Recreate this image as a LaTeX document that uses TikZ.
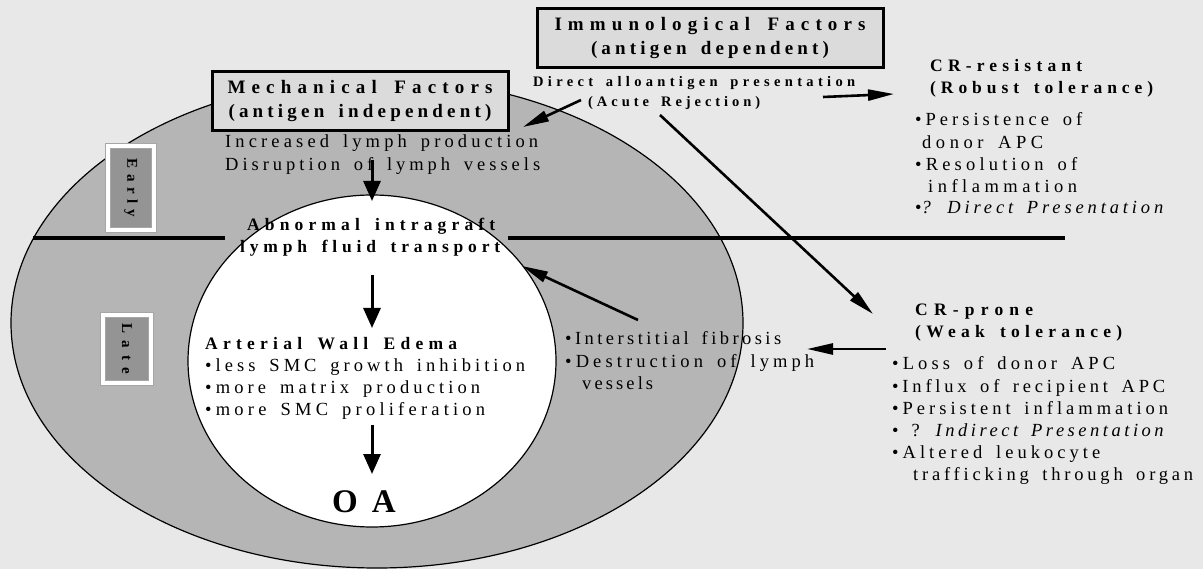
\documentclass[tikz,border=0pt]{standalone}
\usepackage{fontspec}
\setmainfont[WordSpace=1.6]{Liberation Serif}
\usetikzlibrary{shapes.geometric,arrows.meta}
\definecolor{bggray}{gray}{0.91}
\definecolor{ringgray}{gray}{0.71}
\definecolor{boxgray}{gray}{0.86}
\definecolor{tagdark}{gray}{0.58}
% spread a line of text to a given visible width with letter spacing
\newcommand\fitw[2]{%
  \setbox0\hbox{#2}\edef\fitA{\the\wd0}%
  \setbox0\hbox{\addfontfeature{LetterSpace=10}#2}\edef\fitB{\the\wd0}%
  \pgfmathsetmacro\fitls{10*(#1-\fitA)/(\fitB-\fitA)}%
  {\addfontfeature{LetterSpace=\fitls}#2}}
\begin{document}
\begin{tikzpicture}[x=1pt,y=-1pt,
  body/.style={font={\fontsize{18.5}{22}\selectfont}, inner sep=0pt, anchor=base west},
  bhead/.style={font={\bfseries\fontsize{17.5}{21}\selectfont}, inner sep=0pt, anchor=base west},
  small/.style={font={\bfseries\fontsize{14.5}{17}\selectfont}, inner sep=0pt, anchor=base west},
  factor/.style={draw=black, line width=3pt, fill=boxgray, inner sep=0pt, align=center,
    minimum height=59pt, font={\bfseries\fontsize{19}{24}\selectfont}},
  tag/.style={draw=gray!70, double=white, double distance=3.5pt, line width=0.8pt, fill=tagdark,
    rotate=-90, font={\bfseries\fontsize{15}{18}\selectfont}, inner sep=0pt},
  big/.style={-{Triangle[length=20pt,width=17pt]}, line width=3pt},
  slim/.style={-{Triangle[length=26pt,width=11pt]}, line width=2.6pt},
  divider/.style={line width=4pt},
  ring/.style={ellipse, draw=black, line width=1.2pt, inner sep=0pt},
]
\useasboundingbox (0,0) rectangle (1203,569);
\fill[bggray] (0,0) rectangle (1203,569);

% rings
\node[ring, fill=ringgray, minimum width=732pt, minimum height=490pt] (outer) at (377,323) {};
\node[ring, fill=white, minimum width=368pt, minimum height=332pt] (inner) at (372,361) {};

% divider
\coordinate (dl1) at (33,238); \coordinate (dl2) at (225,238);
\coordinate (dr1) at (508,238); \coordinate (dr2) at (1065,238);
\draw[divider] (dl1) -- (dl2);
\draw[divider] (dr1) -- (dr2);

% tags
\node[tag, minimum width=84pt, minimum height=46pt] (early) at (131,188) {\fitw{58}{Early}};
\node[tag, minimum width=68pt, minimum height=48pt] (late) at (127,349) {\fitw{50}{Late}};

% factor boxes
\node[factor, minimum width=296pt] (mech) at (360,101.5)
  {\fitw{265}{Mechanical Factors}\\\fitw{263}{(antigen independent)}};
\node[factor, minimum width=346pt] (immu) at (710,38.5)
  {\fitw{311}{Immunological Factors}\\\fitw{238}{(antigen dependent)}};

% texts
\node[body] (inc) at (225,148) {\fitw{313}{Increased lymph production}};
\node[body] (dis) at (225,171) {\fitw{315}{Disruption of lymph vessels}};
\node[small] (dir) at (533,87) {\fitw{322}{Direct alloantigen presentation}};
\node[small] (acute) at (588,106.5) {\fitw{172}{(Acute Rejection)}};

\node[bhead] (crr1) at (930,72) {\fitw{152}{CR-resistant}};
\node[bhead] (crr2) at (930,94) {\fitw{223}{(Robust tolerance)}};
\node[body] (crr3) at (915,126) {\fitw{167}{•Persistence of}};
\node[body] (crr4) at (922,149) {\fitw{121}{donor APC}};
\node[body] (crr5) at (915,171) {\fitw{162}{•Resolution of}};
\node[body] (crr6) at (928,193) {\fitw{149}{inflammation}};
\node[body] (crr7) at (915,214) {\fitw{252}{•\textit{? Direct Presentation}}};

\node[bhead] (abn1) at (247,231) {\fitw{248}{Abnormal intragraft}};
\node[bhead] (abn2) at (240,253) {\fitw{260}{lymph fluid transport}};

\node[bhead] (awe) at (205,350) {\fitw{252}{Arterial Wall Edema}};
\node[body] (aw1) at (205,372) {\fitw{320}{•less SMC growth inhibition}};
\node[body] (aw2) at (205,394) {\fitw{275}{•more matrix production}};
\node[body] (aw3) at (205,416) {\fitw{280}{•more SMC proliferation}};
\node[font={\bfseries\fontsize{33}{36}\selectfont}, inner sep=0pt, anchor=base west] (oa) at (332,512) {O\hspace{14pt}A};

\node[body] (if1) at (565,345) {\fitw{216}{•Interstitial fibrosis}};
\node[body] (if2) at (565,368) {\fitw{249}{•Destruction of lymph}};
\node[body] (if3) at (582,390) {\fitw{71}{vessels}};

\node[bhead] (crp1) at (915,316) {\fitw{118}{CR-prone}};
\node[bhead] (crp2) at (915,338) {\fitw{207}{(Weak tolerance)}};
\node[body] (crp3) at (892,370) {\fitw{223}{•Loss of donor APC}};
\node[body] (crp4) at (892,392) {\fitw{273}{•Influx of recipient APC}};
\node[body] (crp5) at (892,414) {\fitw{276}{•Persistent inflammation}};
\node[body] (crp6) at (892,436) {\fitw{275}{• ? \textit{Indirect Presentation}}};
\node[body] (crp7) at (892,458) {\fitw{208}{•Altered leukocyte}};
\node[body] (crp8) at (913,480) {\fitw{280}{trafficking through organ}};

% arrow ends
\coordinate (a1s) at (372,160); \coordinate (a1e) at (372,201);
\coordinate (a2s) at (372,275); \coordinate (a2e) at (372,328);
\coordinate (a3s) at (372,425); \coordinate (a3e) at (372,474);
\coordinate (a4s) at (581,100); \coordinate (a4e) at (523,127);
\coordinate (a5s) at (823,97);  \coordinate (a5e) at (894,94);
\coordinate (a6s) at (660,115); \coordinate (a6e) at (873,314);
\coordinate (a7s) at (886,349); \coordinate (a7e) at (807,349);
\coordinate (a8s) at (638,320); \coordinate (a8e) at (522,266);

\draw[big] (a1s) -- (a1e);
\draw[big] (a2s) -- (a2e);
\draw[big] (a3s) -- (a3e);
\draw[slim] (a4s) -- (a4e);
\draw[slim] (a5s) -- (a5e);
\draw[slim] (a6s) -- (a6e);
\draw[slim] (a7s) -- (a7e);
\draw[slim] (a8s) -- (a8e);
\end{tikzpicture}
\end{document}
